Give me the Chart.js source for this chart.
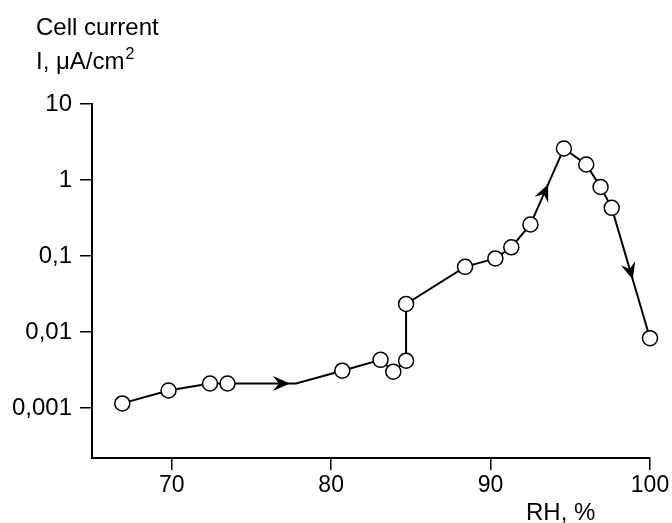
<!DOCTYPE html>
<html>
<head>
<meta charset="utf-8">
<script src="https://cdn.jsdelivr.net/npm/chart.js@4/dist/chart.umd.min.js"></script>
<style>
	body { margin: 0; background: #fff; }
</style>
</head>
<body>
<canvas id="ChartCanvas" width="672" height="523"></canvas>
<script>
// measured points, RH % and cell current in uA/cm2
const rh = [66.9, 69.8, 72.4, 73.5, 80.7, 83.1, 83.9, 84.7, 84.7, 88.4, 90.3, 91.3, 92.5, 94.6, 96.0, 96.9, 97.6, 100.0];
const current = [0.00115, 0.0017, 0.0021, 0.0021, 0.0031, 0.0043, 0.0030, 0.0042, 0.0234, 0.072, 0.093, 0.13, 0.26, 2.6, 1.6, 0.81, 0.43, 0.0083];

// the path bends once between measured points (after index 3)
const bendAfter = 3;
const bendRH = 77.8;
const bendCurrent = 0.0021;

// arrow heads: path segment index and fraction along it
const arrowSeg = [3, 13, 17];
const arrowAt = [0.91, 0.53, 0.55];

const xTicks = [70, 80, 90, 100];
const yTicks = [0.001, 0.01, 0.1, 1, 10];
const yTitle1 = 'Cell current';
const yTitle2 = 'I, \u03BCA/cm';
const yTitleSup = '2';
const xTitle = 'RH, %';

const fontFamily = '"Liberation Sans", Arial, sans-serif';

let measured = rh.map(function (x, i) { return { x: x, y: current[i] }; });
let path = measured.slice();
path.splice(bendAfter + 1, 0, { x: bendRH, y: bendCurrent });

const arrowPlugin = {
	id: 'arrows',
	afterDatasetsDraw: function (chart) {
		let pts = chart.getDatasetMeta(0).data;
		let ctx = chart.ctx;
		ctx.save();
		ctx.fillStyle = '#000';
		for (let i = 0; i < arrowSeg.length; i++) {
			let a = pts[arrowSeg[i]], b = pts[arrowSeg[i] + 1];
			let t = arrowAt[i];
			let px = a.x + (b.x - a.x) * t;
			let py = a.y + (b.y - a.y) * t;
			let ang = Math.atan2(b.y - a.y, b.x - a.x);
			ctx.save();
			ctx.translate(px, py);
			ctx.rotate(ang);
			ctx.beginPath();
			ctx.moveTo(0, 0);
			ctx.lineTo(-17, -7.5);
			ctx.lineTo(-11, 0);
			ctx.lineTo(-17, 7.5);
			ctx.closePath();
			ctx.fill();
			ctx.restore();
		}
		ctx.restore();
	}
};

const titlePlugin = {
	id: 'titles',
	afterDraw: function (chart) {
		let ctx = chart.ctx;
		ctx.save();
		ctx.fillStyle = '#000';
		ctx.textBaseline = 'alphabetic';
		ctx.textAlign = 'left';
		ctx.font = '24px ' + fontFamily;
		ctx.fillText(yTitle1, 36, 35);
		ctx.fillText(yTitle2, 36, 69);
		let w = ctx.measureText(yTitle2).width;
		ctx.font = '16px ' + fontFamily;
		ctx.fillText(yTitleSup, 36 + w + 1, 59);
		ctx.font = '24px ' + fontFamily;
		ctx.fillText(xTitle, 526, 520);
		ctx.restore();
	}
};

var ctx = document.getElementById('ChartCanvas').getContext('2d');
var chart = new Chart(ctx, {
	type: 'scatter',
	data: {
		datasets: [{
			data: path,
			showLine: true,
			borderColor: '#000',
			borderWidth: 2,
			pointRadius: 0,
			tension: 0,
			clip: false,
			order: 2
		}, {
			data: measured,
			showLine: false,
			pointRadius: 7.5,
			pointBackgroundColor: '#fff',
			pointBorderColor: '#000',
			pointBorderWidth: 1.5,
			clip: false,
			order: 1
		}]
	},
	options: {
		responsive: false,
		animation: false,
		devicePixelRatio: 1,
		layout: { padding: { top: 104, right: 22, left: 0, bottom: 0 } },
		plugins: {
			legend: { display: false },
			tooltip: { enabled: false }
		},
		scales: {
			x: {
				type: 'linear',
				min: 65,
				max: 100,
				afterBuildTicks: function (s) { s.ticks = xTicks.map(function (v) { return { value: v }; }); },
				afterFit: function (s) { s.height = 65; },
				grid: { drawOnChartArea: false, tickLength: 12, color: '#000', lineWidth: 1.5 },
				border: { display: true, color: '#000', width: 2 },
				ticks: { color: '#000', padding: 2, font: { size: 23, family: fontFamily } }
			},
			y: {
				type: 'logarithmic',
				min: 0.00022,
				max: 10,
				afterBuildTicks: function (s) { s.ticks = yTicks.map(function (v) { return { value: v }; }); },
				afterFit: function (s) { s.width = 92; },
				grid: { drawOnChartArea: false, tickLength: 12, color: '#000', lineWidth: 1.5 },
				border: { display: true, color: '#000', width: 2 },
				ticks: {
					color: '#000',
					padding: 8,
					font: { size: 24, family: fontFamily },
					callback: function (v) { return String(v).replace('.', ','); }
				}
			}
		}
	},
	plugins: [arrowPlugin, titlePlugin]
});
</script>
</body>
</html>
